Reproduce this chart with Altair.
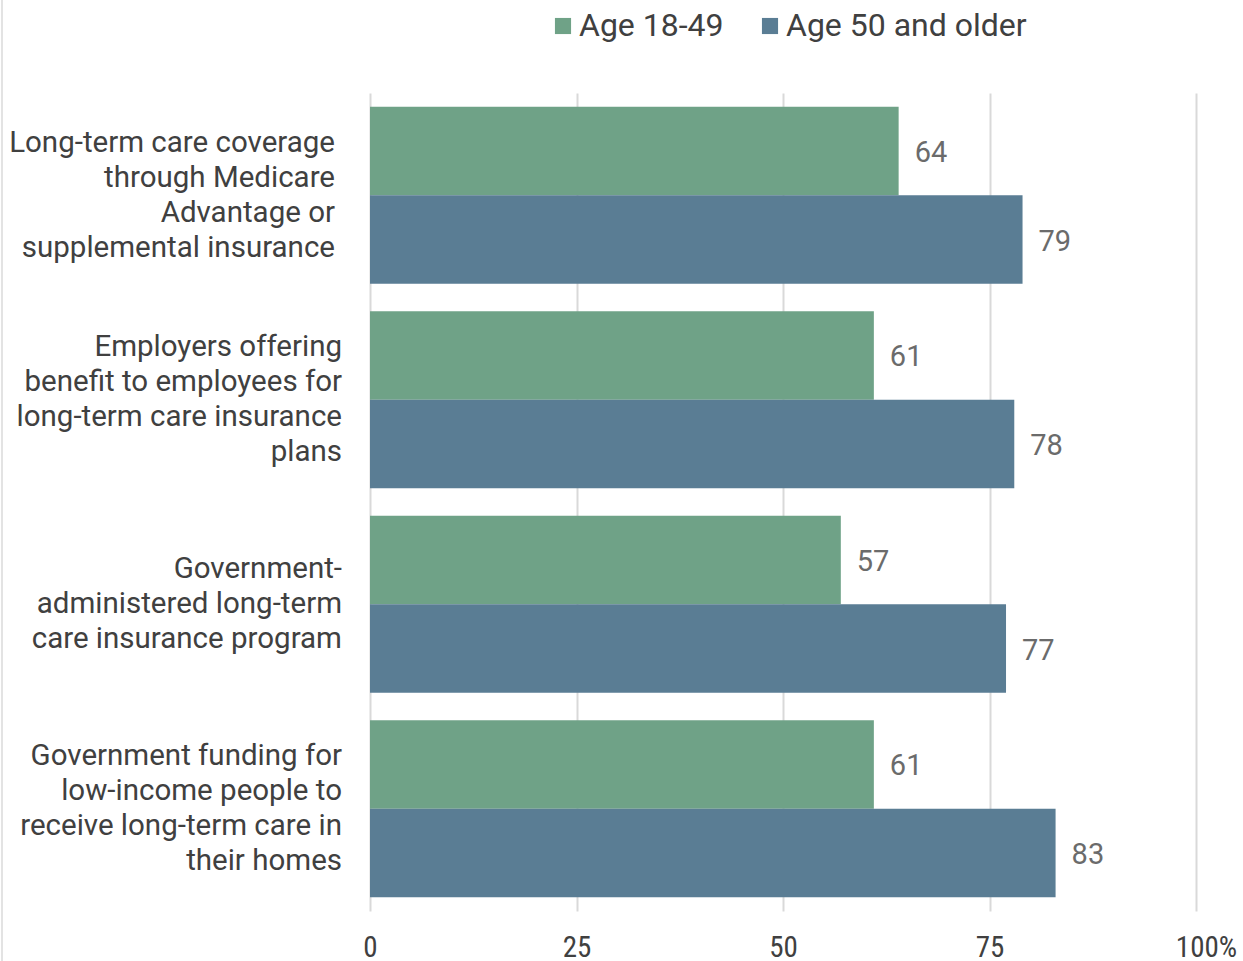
import altair as alt
import pandas as pd

categories = [
    "Long-term care coverage|through Medicare|Advantage or|supplemental insurance",
    "Employers offering|benefit to employees for|long-term care insurance|plans",
    "Government-|administered long-term|care insurance program",
    "Government funding for|low-income people to|receive long-term care in|their homes",
]
series = ["Age 18-49", "Age 50 and older"]
young = [64, 61, 57, 61]
older = [79, 78, 77, 83]
colors = ["#6FA287", "#5A7D94"]

rows = []
for c, a, b in zip(categories, young, older):
    rows.append({"cat": c, "series": series[0], "value": a})
    rows.append({"cat": c, "series": series[1], "value": b})
df = pd.DataFrame(rows)
cat_df = pd.DataFrame({"cat": categories, "idx": list(range(len(categories)))})

FONT = "Roboto"
NARROW = "'Roboto Condensed', 'Liberation Sans Narrow', 'DejaVu Sans Condensed', Roboto"

y_enc = alt.Y("cat:N", sort=categories,
              scale=alt.Scale(paddingInner=0.134, paddingOuter=0.067),
              axis=None)
x_axis = alt.Axis(title=None, values=[0, 25, 50, 75, 100],
                  labelExpr="datum.value == 100 ? '100%' : datum.label",
                  labelFontSize=29, labelColor="#404040", labelFont=NARROW,
                  labelFlush=False,
                  labelOffset=alt.condition("datum.value == 100", alt.value(10), alt.value(0)),
                  labelPadding=22, ticks=False, domain=False,
                  grid=True, gridColor="#D9D9D9", gridWidth=2)
x_enc = alt.X("value:Q", scale=alt.Scale(domain=[0, 100]), axis=x_axis)
yoff = alt.YOffset("series:N", sort=series, scale=alt.Scale(paddingInner=0, paddingOuter=0))

bars = alt.Chart(df).mark_bar().encode(
    y=y_enc, x=x_enc, yOffset=yoff,
    color=alt.Color("series:N", sort=series,
                    scale=alt.Scale(domain=series, range=colors),
                    legend=alt.Legend(title=None, orient="none", direction="horizontal",
                                      legendX=177, legendY=-83,
                                      symbolType="square", symbolSize=260,
                                      symbolStrokeWidth=0, symbolOpacity=1,
                                      labelFontSize=32, labelFont=FONT,
                                      labelColor="#404040", columnPadding=30,
                                      labelOffset=0, labelLimit=500)),
)

labels = alt.Chart(df).mark_text(align="left", baseline="middle", dx=16, dy=2,
                                 fontSize=29, font=FONT, color="#6B6B6B").encode(
    y=alt.Y("cat:N", sort=categories, axis=None),
    x=x_enc,
    yOffset=yoff,
    text="value:Q",
)

def cat_labels(test, dy, dx=0):
    return alt.Chart(cat_df).transform_calculate(
        n="length(split(datum.cat, '|'))"
    ).transform_filter(test).mark_text(
        align="right", baseline="middle", lineBreak="|", lineHeight=35,
        fontSize=29.5, font=FONT, color="#404040", dy=dy, dx=dx,
    ).encode(
        y=alt.Y("cat:N", sort=categories, axis=None),
        x=alt.value(-28),
        text="cat:N",
    )

border = alt.Chart(pd.DataFrame({"a": [0]})).mark_rule(color="#E3E3E3", strokeWidth=2).encode(
    x=alt.value(-368), y=alt.value(-93), y2=alt.value(868)
)

chart = alt.layer(
    border, bars, labels,
    cat_labels("datum.n == 4 && datum.idx == 0", -52.5, -7),
    cat_labels("datum.n == 4 && datum.idx > 0", -52.5),
    cat_labels("datum.n == 3", -35),
).properties(
    width=826, height=818,
    autosize=alt.AutoSizeParams(type="none"),
    padding={"left": 370, "top": 93, "right": 47, "bottom": 50},
    view=alt.ViewBackground(stroke="transparent", strokeWidth=0),
).configure_view(stroke="transparent", strokeWidth=0).configure_axis(
    domain=False
).configure(font=FONT)

chart.save("out.html", embed_options={"renderer": "svg", "actions": False})
